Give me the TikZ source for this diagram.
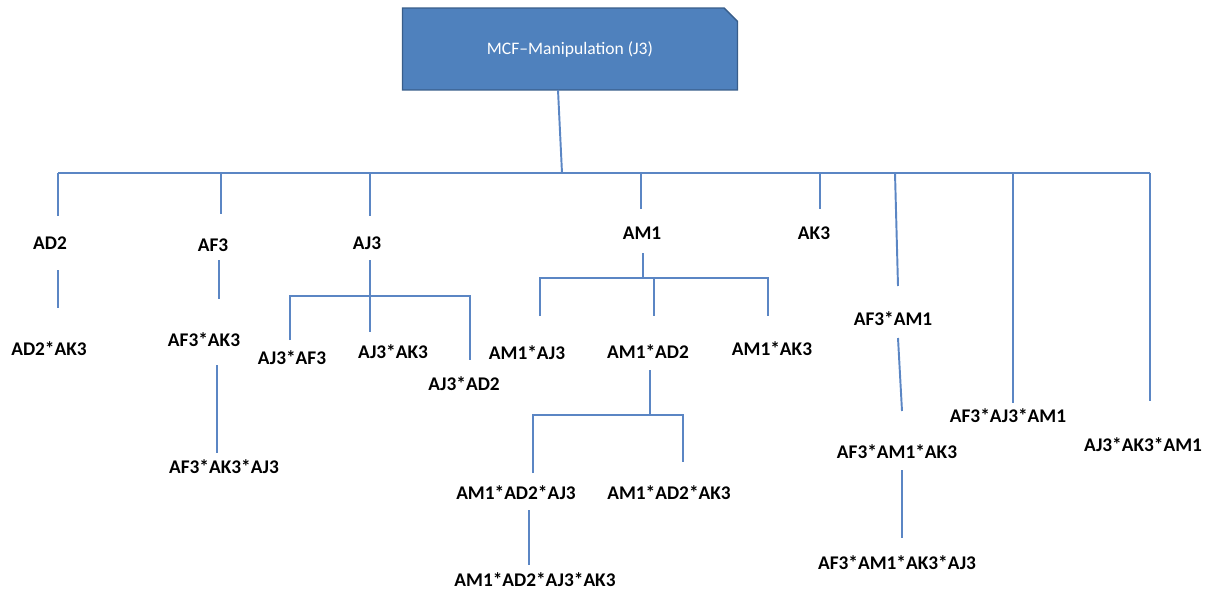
\documentclass[tikz,border=0pt]{standalone}
\usepackage{fontspec}
\setmainfont{Carlito}
\usetikzlibrary{positioning,shapes.misc}
\definecolor{boxblue}{RGB}{79,129,189}
\definecolor{boxedge}{RGB}{56,93,138}
\definecolor{linkblue}{RGB}{91,134,196}

\begin{document}
\begin{tikzpicture}[x=0.02cm, y=-0.02cm,
  topbox/.style={draw=boxedge, line width=0.8pt, fill=boxblue, text=white,
    font=\fontsize{10}{12}\selectfont, chamfered rectangle,
    chamfered rectangle corners=north east, chamfered rectangle xsep=0.26cm,
    minimum width=6.7cm, minimum height=1.64cm, inner sep=0pt},
  lbl/.style={font=\bfseries\fontsize{11}{13}\selectfont, inner sep=1pt},
  link/.style={draw=linkblue, line width=1.1pt}]
\useasboundingbox (0,0) rectangle (1214,592);

% title box and main bus
\node[topbox] (top) at (570,49) {MCF--Manipulation (J3)};
\coordinate (topfoot) at (558,90);
\coordinate (busl) at (58,173);
\coordinate (busm) at (562,173);
\coordinate (busr) at (1150,173);
\draw[link] (topfoot) -- (busm);
\draw[link] (busl) -- (busr);

% first level
\node[lbl] (ad2) at (50,243) {AD2};
\node[lbl] (af3) at (213,245) {AF3};
\node[lbl] (aj3) at (367,243) {AJ3};
\node[lbl] (am1) at (642,233) {AM1};
\node[lbl] (ak3) at (814,233) {AK3};
\node[lbl] (af3am1) at (893,319) {AF3*AM1};
\node[lbl] (af3aj3am1) at (1008,416) {AF3*AJ3*AM1};
\node[lbl] (aj3ak3am1) at (1143,445) {AJ3*AK3*AM1};

\coordinate (ad2up) at (58,216);
\coordinate (af3up) at (221,214);
\coordinate (aj3up) at (370,216);
\coordinate (am1up) at (641,209);
\coordinate (ak3up) at (820,209);
\coordinate (af3am1top) at (895,173);
\coordinate (af3am1up) at (898,286);
\coordinate (af3aj3am1up) at (1013,403);
\coordinate (aj3ak3am1up) at (1150,401);

\draw[link] (ad2up |- busl) -- (ad2up);
\draw[link] (af3up |- busl) -- (af3up);
\draw[link] (aj3up |- busl) -- (aj3up);
\draw[link] (am1up |- busl) -- (am1up);
\draw[link] (ak3up |- busl) -- (ak3up);
\draw[link] (af3am1top) -- (af3am1up);
\draw[link] (af3aj3am1up |- busl) -- (af3aj3am1up);
\draw[link] (busr) -- (aj3ak3am1up);

% under AD2
\node[lbl] (ad2ak3) at (49,349) {AD2*AK3};
\coordinate (ad2dn) at (58,270);
\coordinate (ad2ak3up) at (58,308);
\draw[link] (ad2dn) -- (ad2ak3up);

% under AF3
\node[lbl] (af3ak3) at (204,340) {AF3*AK3};
\node[lbl] (af3ak3aj3) at (224,467) {AF3*AK3*AJ3};
\coordinate (af3dn) at (219,260);
\coordinate (af3ak3up) at (219,299);
\coordinate (af3ak3dn) at (217,365);
\coordinate (af3ak3aj3up) at (217,453);
\draw[link] (af3dn) -- (af3ak3up);
\draw[link] (af3ak3dn) -- (af3ak3aj3up);

% under AJ3
\node[lbl] (aj3af3) at (292,358) {AJ3*AF3};
\node[lbl] (aj3ak3) at (393,352) {AJ3*AK3};
\node[lbl] (aj3ad2) at (464,384) {AJ3*AD2};
\coordinate (aj3dn) at (370,260);
\coordinate (aj3bar) at (370,296);
\coordinate (aj3af3up) at (290,340);
\coordinate (aj3ak3up) at (370,332);
\coordinate (aj3ad2up) at (470,360);
\draw[link] (aj3dn) -- (aj3ak3up);
\draw[link] (aj3af3up) |- (aj3bar) -| (aj3ad2up);

% under AM1
\node[lbl] (am1aj3) at (527,353) {AM1*AJ3};
\node[lbl] (am1ad2) at (648,352) {AM1*AD2};
\node[lbl] (am1ak3) at (772,349) {AM1*AK3};
\coordinate (am1dn) at (643,253);
\coordinate (am1bar) at (643,278);
\coordinate (am1aj3up) at (540,316);
\coordinate (am1ad2up) at (654,316);
\coordinate (am1ak3up) at (768,316);
\draw[link] (am1dn) -- (am1bar);
\draw[link] (am1aj3up) |- (am1bar) -| (am1ak3up);
\draw[link] (am1ad2up |- am1bar) -- (am1ad2up);

% under AM1*AD2
\node[lbl] (am1ad2aj3) at (516,493) {AM1*AD2*AJ3};
\node[lbl] (am1ad2ak3) at (669,493) {AM1*AD2*AK3};
\node[lbl] (am1ad2aj3ak3) at (535,580) {AM1*AD2*AJ3*AK3};
\coordinate (am1ad2dn) at (650,370);
\coordinate (am1ad2bar) at (650,415);
\coordinate (am1ad2aj3up) at (533,473);
\coordinate (am1ad2ak3up) at (683,462);
\coordinate (am1ad2aj3dn) at (529,510);
\coordinate (am1ad2aj3ak3up) at (529,565);
\draw[link] (am1ad2dn) -- (am1ad2bar);
\draw[link] (am1ad2aj3up) |- (am1ad2bar) -| (am1ad2ak3up);
\draw[link] (am1ad2aj3dn) -- (am1ad2aj3ak3up);

% under AF3*AM1
\node[lbl] (af3am1ak3) at (897,452) {AF3*AM1*AK3};
\node[lbl] (af3am1ak3aj3) at (897,563) {AF3*AM1*AK3*AJ3};
\coordinate (af3am1dn) at (898,338);
\coordinate (af3am1ak3up) at (902,411);
\coordinate (af3am1ak3dn) at (902,470);
\coordinate (af3am1ak3aj3up) at (902,538);
\draw[link] (af3am1dn) -- (af3am1ak3up);
\draw[link] (af3am1ak3dn) -- (af3am1ak3aj3up);
\end{tikzpicture}
\end{document}
